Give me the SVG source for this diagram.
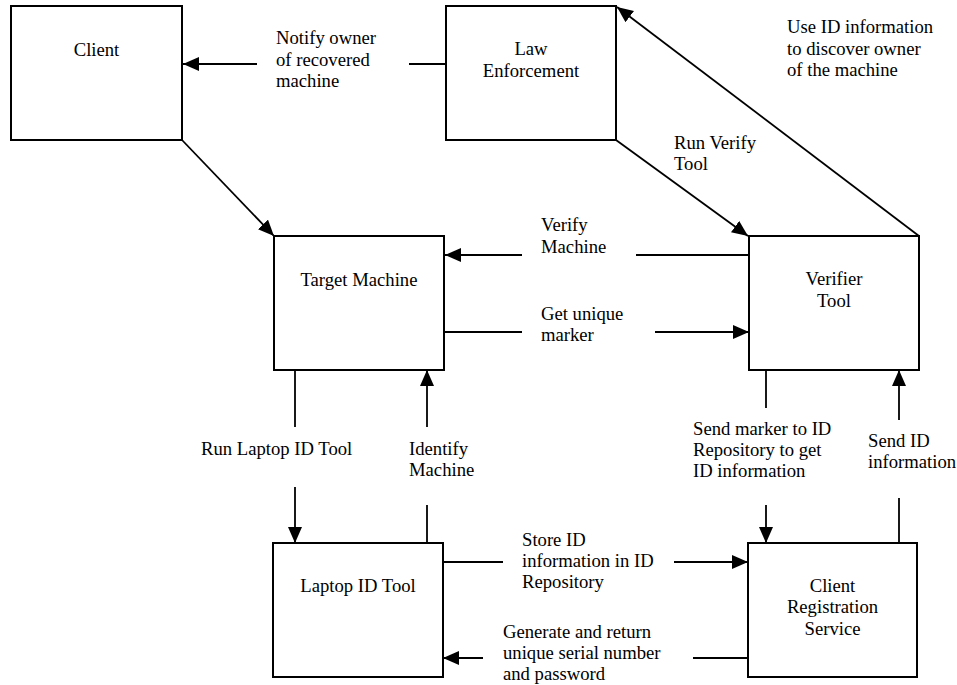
<svg xmlns="http://www.w3.org/2000/svg" width="957" height="685" viewBox="0 0 957 685">
<style>
.box{fill:#fff;stroke:#000;stroke-width:2}
.ln{fill:none;stroke:#000;stroke-width:1.8}
.t{font-family:"Liberation Serif","Times New Roman",serif;font-size:18.67px;fill:#000}
.c{text-anchor:middle}
</style>
<defs>
<marker id="ah" markerUnits="userSpaceOnUse" markerWidth="17" markerHeight="15" refX="16" refY="7" orient="auto" viewBox="0 0 17 15">
<path d="M0,0 L16,7 L0,14 z" fill="#000"/>
</marker>
</defs>
<rect width="957" height="685" fill="#fff"/>
<g id="client">
<rect class="box" x="11" y="6" width="171" height="134"/>
<text class="t c" x="96.5" y="56">Client</text>
</g>
<g id="law-enforcement">
<rect class="box" x="446" y="6" width="170" height="134"/>
<text class="t c" x="531" y="55">Law</text>
<text class="t c" x="531" y="77">Enforcement</text>
</g>
<g id="target-machine">
<rect class="box" x="274" y="236" width="170" height="134"/>
<text class="t c" x="359" y="286">Target Machine</text>
</g>
<g id="verifier-tool">
<rect class="box" x="749" y="236" width="170" height="134"/>
<text class="t c" x="834" y="285">Verifier</text>
<text class="t c" x="834" y="307">Tool</text>
</g>
<g id="laptop-id-tool">
<rect class="box" x="273" y="543" width="170" height="134"/>
<text class="t c" x="358" y="592">Laptop ID Tool</text>
</g>
<g id="client-registration-service">
<rect class="box" x="748" y="543" width="169" height="134"/>
<text class="t c" x="832.5" y="592">Client</text>
<text class="t c" x="832.5" y="613">Registration</text>
<text class="t c" x="832.5" y="635">Service</text>
</g>
<g id="connectors">
<line class="ln" x1="446" y1="64" x2="409" y2="64"/>
<line class="ln" x1="257" y1="64" x2="183" y2="64" marker-end="url(#ah)"/>
<line class="ln" x1="182" y1="140" x2="274" y2="236" marker-end="url(#ah)"/>
<line class="ln" x1="616" y1="140" x2="748" y2="236" marker-end="url(#ah)"/>
<line class="ln" x1="919" y1="236" x2="617" y2="7" marker-end="url(#ah)"/>
<line class="ln" x1="749" y1="255" x2="636" y2="255"/>
<line class="ln" x1="522" y1="255" x2="445" y2="255" marker-end="url(#ah)"/>
<line class="ln" x1="444" y1="332" x2="522" y2="332"/>
<line class="ln" x1="655" y1="332" x2="749" y2="332" marker-end="url(#ah)"/>
<line class="ln" x1="295" y1="370" x2="295" y2="427"/>
<line class="ln" x1="295" y1="487" x2="295" y2="543" marker-end="url(#ah)"/>
<line class="ln" x1="427" y1="543" x2="427" y2="505"/>
<line class="ln" x1="427" y1="427" x2="427" y2="370" marker-end="url(#ah)"/>
<line class="ln" x1="766" y1="370" x2="766" y2="408"/>
<line class="ln" x1="766" y1="505" x2="766" y2="543" marker-end="url(#ah)"/>
<line class="ln" x1="899" y1="543" x2="899" y2="498"/>
<line class="ln" x1="899" y1="420" x2="899" y2="370" marker-end="url(#ah)"/>
<line class="ln" x1="443" y1="562" x2="503" y2="562"/>
<line class="ln" x1="674" y1="562" x2="748" y2="562" marker-end="url(#ah)"/>
<line class="ln" x1="748" y1="658" x2="693" y2="658"/>
<line class="ln" x1="483" y1="658" x2="443" y2="658" marker-end="url(#ah)"/>
</g>
<g id="labels">
<text class="t" x="276" y="44">Notify owner</text>
<text class="t" x="276" y="65.5">of recovered</text>
<text class="t" x="276" y="87">machine</text>
<text class="t" x="787" y="33">Use ID information</text>
<text class="t" x="787" y="54.5">to discover owner</text>
<text class="t" x="787" y="76">of the machine</text>
<text class="t" x="674" y="149">Run Verify</text>
<text class="t" x="674" y="170">Tool</text>
<text class="t" x="541" y="231">Verify</text>
<text class="t" x="541" y="253">Machine</text>
<text class="t" x="541" y="320">Get unique</text>
<text class="t" x="541" y="341">marker</text>
<text class="t" x="201" y="455">Run Laptop ID Tool</text>
<text class="t" x="409" y="455">Identify</text>
<text class="t" x="409" y="476">Machine</text>
<text class="t" x="693" y="435">Send marker to ID</text>
<text class="t" x="693" y="456">Repository to get</text>
<text class="t" x="693" y="477">ID information</text>
<text class="t" x="868" y="447">Send ID</text>
<text class="t" x="868" y="468">information</text>
<text class="t" x="522" y="546">Store ID</text>
<text class="t" x="522" y="567">information in ID</text>
<text class="t" x="522" y="588">Repository</text>
<text class="t" x="503" y="638">Generate and return</text>
<text class="t" x="503" y="659">unique serial number</text>
<text class="t" x="503" y="680">and password</text>
</g>
</svg>
